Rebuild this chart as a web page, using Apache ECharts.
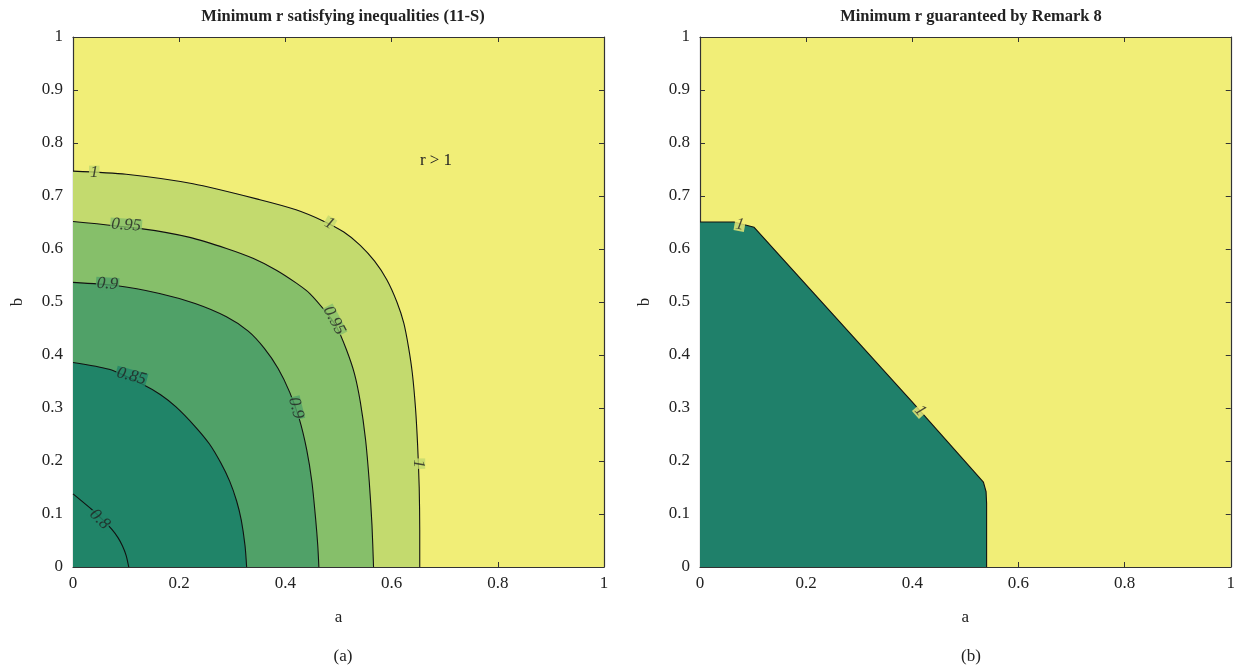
<!DOCTYPE html>
<html><head><meta charset="utf-8">
<script src="https://cdn.jsdelivr.net/npm/echarts@6/dist/echarts.min.js"></script>
<style>html,body{margin:0;padding:0;background:#fff}#c{width:1238px;height:667px}</style>
</head><body><div id="c"></div>
<script>
// ---- data (a, b) points along each contour level ----
const levelsA = [1, 0.95, 0.9, 0.85, 0.8];
const contour1 = [[0,0.747],[0.1,0.741],[0.226,0.723],[0.352,0.693],[0.42,0.674],[0.471,0.653],[0.51,0.632],[0.541,0.607],[0.568,0.577],[0.591,0.542],[0.61,0.5],[0.623,0.46],[0.632,0.414],[0.639,0.366],[0.645,0.3],[0.649,0.23],[0.652,0.15],[0.653,0.07],[0.653,0]];
const contour095 = [[0,0.652],[0.131,0.638],[0.22,0.622],[0.289,0.601],[0.34,0.582],[0.383,0.56],[0.42,0.536],[0.446,0.516],[0.478,0.479],[0.497,0.452],[0.515,0.41],[0.53,0.365],[0.541,0.312],[0.551,0.24],[0.558,0.16],[0.563,0.08],[0.566,0]];
const contour09 = [[0,0.537],[0.08,0.531],[0.163,0.516],[0.23,0.497],[0.289,0.472],[0.33,0.445],[0.36,0.413],[0.386,0.375],[0.408,0.33],[0.426,0.28],[0.44,0.222],[0.45,0.16],[0.457,0.09],[0.461,0.04],[0.463,0]];
const contour085 = [[0,0.386],[0.068,0.373],[0.131,0.345],[0.165,0.325],[0.194,0.302],[0.23,0.265],[0.257,0.232],[0.278,0.197],[0.295,0.162],[0.308,0.125],[0.317,0.088],[0.324,0.04],[0.327,0]];
const contour08 = [[0,0.138],[0.036,0.108],[0.058,0.087],[0.074,0.07],[0.085,0.055],[0.093,0.04],[0.1,0.022],[0.105,0]];
const contourRemark = [[0,0.651],[0.064,0.651],[0.102,0.641],[0.401,0.31],[0.534,0.16],[0.539,0.142],[0.54,0.12],[0.54,0]];
// contour labels: [a, b, text, angle]
const labelsA = [[0.04,0.745,'1',0],[0.483,0.648,'1',-30],[0.1,0.645,'0.95',-4],[0.492,0.465,'0.95',-62],[0.065,0.534,'0.9',-4],[0.42,0.3,'0.9',-76],[0.11,0.36,'0.85',-15],[0.05,0.09,'0.8',-45],[0.651,0.195,'1',-90]];
const labelsB = [[0.075,0.646,'1',-10],[0.415,0.295,'1',-48]];

const YEL = '#F1EE77';
const fillA = ['#C3DA6E','#86BF6A','#50A168','#208468','#208468'];
const FONT = 'Liberation Serif';

const grids = [{left:73,top:37,width:531,height:530},{left:700,top:37,width:531,height:530}];
function xAx(g,pos,lab){return {type:'value',gridIndex:g,min:0,max:1,interval:0.2,position:pos,
  name: lab? 'a':'', nameLocation:'middle', nameGap:42, nameTextStyle:{fontFamily:FONT,fontSize:17,color:'#222'},
  axisLine:{show:true,onZero:false,lineStyle:{color:'#333',width:1.2}},
  axisTick:{show:true,inside:true,length:5,lineStyle:{color:'#333'}},
  axisLabel:{show:lab,fontFamily:FONT,fontSize:17,color:'#222',margin:8,formatter:v=>String(+v.toFixed(1))},
  splitLine:{show:false}};}
function yAx(g,pos,lab){return {type:'value',gridIndex:g,min:0,max:1,interval:0.1,position:pos,
  name: lab? 'b':'', nameLocation:'middle', nameGap:47, nameRotate:90, nameTextStyle:{fontFamily:FONT,fontSize:17,color:'#222'},
  axisLine:{show:true,onZero:false,lineStyle:{color:'#333',width:1.2}},
  axisTick:{show:true,inside:true,length:5,lineStyle:{color:'#333'}},
  axisLabel:{show:lab,fontFamily:FONT,fontSize:17,color:'#222',margin:10,formatter:v=>String(+v.toFixed(1))},
  splitLine:{show:false}};}

const series = [];
const contoursA = [contour1, contour095, contour09, contour085, contour08];
contoursA.forEach((c,i)=>{
  series.push({type:'line',xAxisIndex:0,yAxisIndex:0,data:c,symbol:'none',smooth:0.25,
    lineStyle:{color:'#111',width:1.1},areaStyle:{color:fillA[i],opacity:1,origin:'start'},z:2+i,silent:true});
});
series.push({type:'line',xAxisIndex:2,yAxisIndex:2,data:contourRemark,symbol:'none',smooth:false,
  lineStyle:{color:'#111',width:1.1},areaStyle:{color:'#1F806A',opacity:1,origin:'start'},z:2,silent:true});
function labelSeries(arr,xi,bgFn){
  return {type:'scatter',xAxisIndex:xi,yAxisIndex:xi,symbolSize:1,itemStyle:{color:'transparent'},z:20,silent:true,
    data:arr.map((l,i)=>({value:[l[0],l[1]],label:{show:true,position:'inside',formatter:l[2],rotate:l[3],
      fontFamily:FONT,fontStyle:'italic',fontSize:17,color:'#222',backgroundColor:bgFn(l),padding:[-2,1]}}))};
}
const lvlColor = {'1':fillA[0],'0.95':fillA[1],'0.9':fillA[2],'0.85':fillA[3],'0.8':fillA[4]};
series.push(labelSeries(labelsA,0,l=>lvlColor[l[2]]));
series.push(labelSeries(labelsB,2,l=>YEL));

const option = {
  animation:false,
  backgroundColor:'#fff',
  title:[
    {text:'Minimum r satisfying inequalities (11-S)',left:338,top:3,textAlign:'center',textStyle:{fontFamily:FONT,fontWeight:'bold',fontSize:16.5,color:'#222'}},
    {text:'Minimum r guaranteed by Remark 8',left:966,top:3,textAlign:'center',textStyle:{fontFamily:FONT,fontWeight:'bold',fontSize:16.5,color:'#222'}},
    {text:'(a)',left:338,top:643,textAlign:'center',textStyle:{fontFamily:FONT,fontWeight:'normal',fontSize:17,color:'#222'}},
    {text:'(b)',left:966,top:643,textAlign:'center',textStyle:{fontFamily:FONT,fontWeight:'normal',fontSize:17,color:'#222'}},
    {text:'r > 1',left:431,top:147,textAlign:'center',textStyle:{fontFamily:FONT,fontWeight:'normal',fontSize:17,color:'#222'}}
  ],
  grid: grids.map(g=>Object.assign({show:true,backgroundColor:YEL,borderWidth:0,containLabel:false},g)),
  xAxis:[xAx(0,'bottom',true),xAx(0,'top',false),xAx(1,'bottom',true),xAx(1,'top',false)],
  yAxis:[yAx(0,'left',true),yAx(0,'right',false),yAx(1,'left',true),yAx(1,'right',false)],
  series: series
};
const chart = echarts.init(document.getElementById('c'),null,{renderer:'canvas'});
chart.setOption(option);
</script></body></html>
